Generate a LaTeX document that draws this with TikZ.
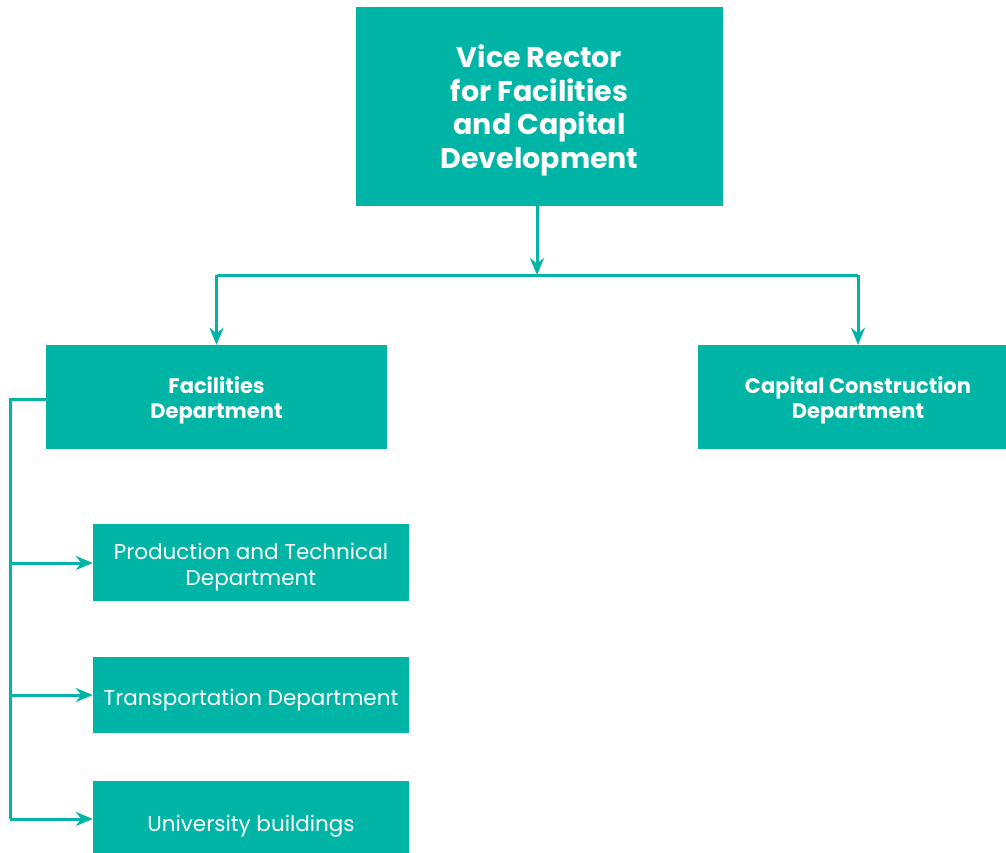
\documentclass[tikz,border=0pt]{standalone}
\usepackage{fontspec}
\setmainfont{Poppins}
\usetikzlibrary{positioning,arrows.meta,calc}
\definecolor{orgTeal}{RGB}{0,181,166}
\tikzset{
    box/.style={rectangle, fill=orgTeal, inner sep=0pt},
    txt/.style={align=center, text=white, inner sep=0pt},
    head/.style={box, label={[txt, yshift=-4pt, font=\fontsize{28.5}{33.5}\selectfont\bfseries]center:#1}},
    dept/.style={box, label={[txt, yshift=-3pt, font=\fontsize{21}{25}\selectfont\bfseries]center:#1}},
    sub/.style={box, label={[txt, yshift=-5pt, font=\fontsize{21.5}{26}\selectfont\mdseries]center:#1}},
    wire/.style={line width=3pt, color=orgTeal},
    flow/.style={wire, -{Stealth[length=17pt, width=14pt]}}
}

\begin{document}
\begin{tikzpicture}[x=1pt, y=-1pt]
  \useasboundingbox (0,0) rectangle (1006,852);

  % Top of the chart
  \node[head={Vice Rector\\for Facilities\\and Capital\\Development},
        minimum width=367pt, minimum height=199pt] (vr) at (539.5,106.5) {};

  % Departments
  \node[dept={Facilities\\Department},
        minimum width=341pt, minimum height=104pt] (fac) at (216.5,397) {};
  \node[dept={Capital Construction\\Department},
        minimum width=320pt, minimum height=104pt] (cap) at (858,397) {};

  % Units of the facilities department
  \node[sub={Production and Technical\\Department},
        minimum width=316pt, minimum height=77pt] (prod) at (251,562.5) {};
  \node[sub={Transportation Department},
        minimum width=316pt, minimum height=76pt] (trans) at (251,695) {};
  \node[sub={University buildings},
        minimum width=316pt, minimum height=80pt] (uni) at (251,821) {};

  % Connectors
  \coordinate (hub) at (537,275);
  \coordinate (bus) at (10,399);
  \draw[flow] (vr.south -| hub) -- (hub);
  \draw[wire] (fac.north |- hub) -- (cap.north |- hub);
  \draw[flow] (fac.north |- hub) -- (fac.north);
  \draw[flow] (cap.north |- hub) -- (cap.north);

  \draw[wire] (fac.west |- bus) -- (bus) -- (bus |- 0,819);
  \foreach \n/\y in {prod/563,trans/695,uni/819}
    \draw[flow] (bus |- 0,\y) -- (\n.west |- 0,\y);
\end{tikzpicture}
\end{document}
